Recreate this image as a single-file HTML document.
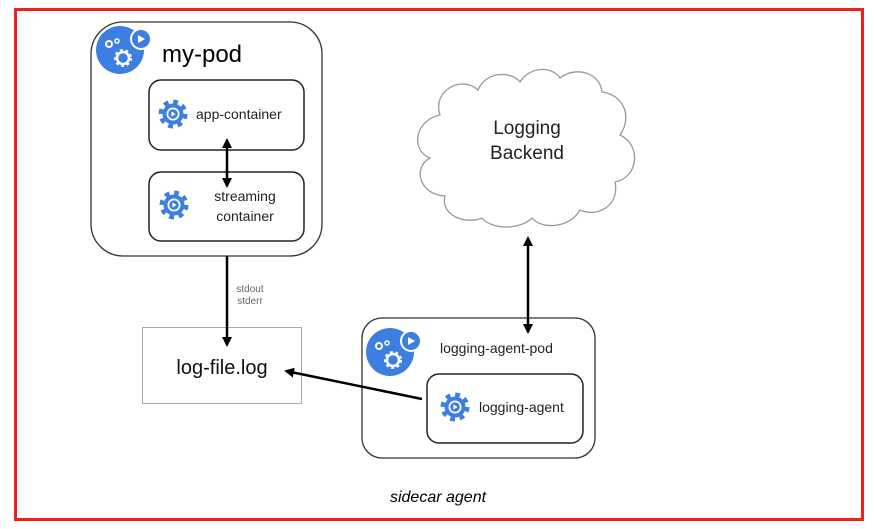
<!DOCTYPE html>
<html><head><meta charset="utf-8"><style>
html,body{margin:0;padding:0;background:#fff;}
svg{display:block;font-family:"Liberation Sans",Arial,sans-serif;}
</style></head><body>
<svg width="874" height="529" viewBox="0 0 874 529" xmlns="http://www.w3.org/2000/svg">
<defs>
<marker id="ah" markerWidth="10" markerHeight="10" refX="8" refY="5" orient="auto-start-reverse" markerUnits="userSpaceOnUse">
<path d="M0,0 L10,5 L0,10 Z" fill="#000"/>
</marker>
<g id="gear">
<circle r="11.5" fill="none" stroke="#3d7fe0" stroke-width="6" stroke-dasharray="4.5 4.5"/>
<circle r="10.5" fill="#3d7fe0"/>
<circle r="6.5" fill="#fff"/>
<circle r="4.8" fill="#3d7fe0"/>
<path d="M-1.6,-2.6 L2.6,0 L-1.6,2.6 Z" fill="#fff"/>
</g>
<g id="podicon">
<circle cx="0" cy="0" r="24" fill="#3d7fe0"/>
<circle cx="21" cy="-11" r="11" fill="#fff"/>
<circle cx="21" cy="-11" r="9" fill="#3d7fe0"/>
<path d="M18,-15 L25,-11 L18,-7 Z" fill="#fff"/>
<circle cx="3" cy="8" r="7" fill="none" stroke="#fff" stroke-width="4" stroke-dasharray="2.5 2.5"/>
<circle cx="3" cy="8" r="6" fill="none" stroke="#fff" stroke-width="2.5"/>
<circle cx="-11" cy="-6" r="3" fill="none" stroke="#fff" stroke-width="2"/>
<circle cx="-3" cy="-9" r="2" fill="none" stroke="#fff" stroke-width="1.5"/>
</g>
</defs>
<rect x="15.5" y="9.5" width="847" height="510" fill="none" stroke="#f0201a" stroke-width="3"/>

<!-- my-pod -->
<rect x="91" y="22" width="231" height="234" rx="32" fill="#fff" stroke="#333" stroke-width="1.3"/>
<use href="#podicon" x="120" y="50"/>
<text x="162" y="62" font-size="24" fill="#000">my-pod</text>
<rect x="149" y="80" width="155" height="70" rx="12" fill="#fff" stroke="#222" stroke-width="1.5"/>
<use href="#gear" x="173" y="114"/>
<text x="196" y="119" font-size="14" fill="#222">app-container</text>
<rect x="149" y="172" width="155" height="69" rx="12" fill="#fff" stroke="#222" stroke-width="1.5"/>
<use href="#gear" x="174" y="205"/>
<text x="245" y="201" font-size="14" fill="#222" text-anchor="middle">streaming</text>
<text x="245" y="221" font-size="14" fill="#222" text-anchor="middle">container</text>

<text x="250" y="292" font-size="10" fill="#666" text-anchor="middle">stdout</text>
<text x="250" y="304" font-size="10" fill="#666" text-anchor="middle">stderr</text>

<!-- log file -->
<rect x="142.5" y="327.5" width="159" height="76" fill="#fff" stroke="#aaa" stroke-width="1"/>
<text x="222" y="374" font-size="20" fill="#111" text-anchor="middle">log-file.log</text>

<!-- cloud -->
<path d="M440,115 C432,90 462,75 478,90 C485,72 510,70 520,82 C530,66 552,66 560,78 C575,66 600,72 602,92 C625,95 632,118 620,135 C642,145 638,178 615,182 C620,205 598,218 580,210 C570,228 542,230 532,218 C520,230 492,230 482,218 C465,225 440,215 445,196 C420,195 412,168 430,158 C410,150 415,120 440,115 Z" fill="#fff" stroke="#999" stroke-width="1.3"/>
<text x="527" y="134" font-size="19" fill="#222" text-anchor="middle">Logging</text>
<text x="527" y="159" font-size="19" fill="#222" text-anchor="middle">Backend</text>

<!-- logging agent pod -->
<rect x="362" y="318" width="233" height="140" rx="20" fill="#fff" stroke="#333" stroke-width="1.3"/>
<use href="#podicon" x="390" y="352"/>
<text x="440" y="353" font-size="14" fill="#222">logging-agent-pod</text>
<rect x="427" y="374" width="156" height="69" rx="12" fill="#fff" stroke="#222" stroke-width="1.5"/>
<use href="#gear" x="455" y="407"/>
<text x="479" y="412" font-size="14" fill="#222">logging-agent</text>

<!-- connectors on top -->
<line x1="227" y1="140" x2="227" y2="186" stroke="#000" stroke-width="2.5" marker-start="url(#ah)" marker-end="url(#ah)"/>
<line x1="227" y1="256" x2="227" y2="345" stroke="#000" stroke-width="2.5" marker-end="url(#ah)"/>
<line x1="528" y1="238" x2="528" y2="332" stroke="#000" stroke-width="2.5" marker-start="url(#ah)" marker-end="url(#ah)"/>
<line x1="422" y1="399" x2="286" y2="371" stroke="#000" stroke-width="2.5" marker-end="url(#ah)"/>

<text x="438" y="502" font-size="16" font-style="italic" fill="#000" text-anchor="middle">sidecar agent</text>
</svg>
</body></html>
